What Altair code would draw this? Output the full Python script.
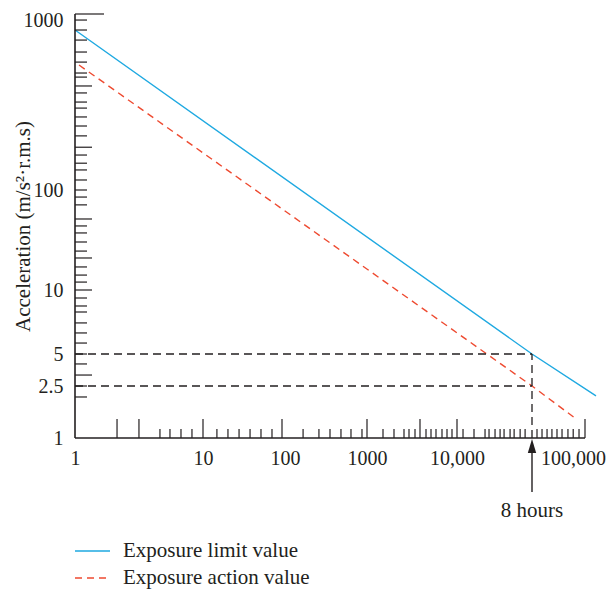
import altair as alt
import pandas as pd

# ---------------- data ----------------
series_names = ["Exposure limit value", "Exposure action value"]
time_limit = [1, 28800, 129500]
acc_limit = [811, 5, 2.1]
time_action = [1.075, 28800, 79100]
acc_action = [513, 2.5, 1.42]

eight_hours = 28800
guide_levels = [5, 2.5]

x_label_values = [1, 10, 100, 1000, 10000, 100000]
y_label_values = [1, 2.5, 5, 10, 100, 1000]

x_ticks_major = [2.13, 3.16, 10, 100, 1000, 3880, 10000, 100000]
x_ticks_minor = [4.61, 5.52, 6.73, 8.2, 15, 20.7, 28.6, 39.4, 54.2, 74.7,
                 177, 272, 367, 494, 648, 873,
                 1506, 1995, 2577, 2929, 3415, 4525, 5142, 5843, 6813, 7743, 8799,
                 10886, 12710, 14850, 15710, 17100, 18360, 19420, 21140, 22380,
                 24360, 26130, 32390, 36440, 41000, 46000, 51800, 58300, 67000,
                 75800, 86900]
y_ticks_top = [1000]
y_ticks_major = [390, 175, 51.3, 20.9, 10, 3.17]
y_ticks_minor = [924, 811, 711, 608, 533, 462, 438, 356, 316, 292, 260, 231, 203,
                 158, 142, 130, 114, 100, 85, 71, 43.7, 37.2, 30.2, 24.5, 17,
                 14.1, 12, 9.17, 8.41, 7.88, 7.0, 6.28, 5.63, 5, 4.03, 2.5, 2.06]

# piecewise log scales (the figure's decades are not evenly spaced)
x_domain = [1, 10, 100, 1000, 10000, 28800, 100000]
x_range = [0, 128, 207, 292, 382, 457, 510]
y_domain = [1, 2.5, 5, 10, 100, 1000]
y_range = [424, 372, 340, 276, 176, 0]

# ---------------- styles ----------------
ink = "#231f20"
blue = "#1fa9e1"
red = "#ee4a30"
font = "Liberation Serif"
W, H = 530, 424

x_scale = alt.Scale(type="log", domain=x_domain, range=x_range, nice=False)
y_scale = alt.Scale(type="log", domain=y_domain, range=y_range, nice=False)

x_axis = alt.Axis(values=x_label_values, ticks=False, domain=False, grid=False,
                  labelPadding=10, labelFontSize=20, labelFont=font, labelColor=ink,
                  labelFlush=False, labelOverlap=False, labelBound=False, title="",
                  labelOffset={"expr": "datum.value == 100000 ? -12 : (datum.value == 100 ? 3 : 0)"},
                  labelExpr="datum.value >= 10000 ? format(datum.value, ',') : '' + datum.value")
y_axis = alt.Axis(values=y_label_values, ticks=False, domain=False, grid=False,
                  labelPadding=12, labelFontSize=20, labelFont=font, labelColor=ink,
                  labelOverlap=False, labelBound=False, labelFlush=False,
                  labelOffset=alt.condition("datum.value == 1000", alt.value(6), alt.value(0)),
                  labelExpr="'' + datum.value",
                  title="Acceleration (m/s²·r.m.s)", titleFont=font, titleFontSize=21,
                  titleFontWeight="normal", titleColor=ink, titleAngle=270,
                  titleX=-52, titleY=212, titleAlign="center", titleBaseline="middle")


def X(field):
    return alt.X(field, scale=x_scale, axis=x_axis)


def Y(field):
    return alt.Y(field, scale=y_scale, axis=y_axis)


limit_df = pd.DataFrame({"t": time_limit, "a": acc_limit})
action_df = pd.DataFrame({"t": time_action, "a": acc_action})

limit_line = alt.Chart(limit_df).mark_line(color=blue, strokeWidth=1.4).encode(
    x=X("t:Q"), y=Y("a:Q"))
action_line = alt.Chart(action_df).mark_line(color=red, strokeWidth=1.4, strokeDash=[7, 5]).encode(
    x=X("t:Q"), y=Y("a:Q"))

# axis lines drawn from data
xaxis_df = pd.DataFrame({"t0": [x_label_values[0]], "t1": [x_label_values[-1]], "a": [y_label_values[0]]})
yaxis_df = pd.DataFrame({"t": [x_label_values[0]], "a0": [y_label_values[0]], "a1": [y_label_values[-1]]})
x_axis_line = alt.Chart(xaxis_df).mark_rule(color=ink, strokeWidth=1.6).encode(
    x=X("t0:Q"), x2="t1:Q", y=Y("a:Q"))
y_axis_line = alt.Chart(yaxis_df).mark_rule(color=ink, strokeWidth=1.6).encode(
    x=X("t:Q"), y=Y("a0:Q"), y2="a1:Q")


def xticks(vals, length):
    return alt.Chart(pd.DataFrame({"t": vals})).mark_rule(color=ink, strokeWidth=1.2).encode(
        x=X("t:Q"), y=alt.value(H), y2=alt.value(H - length))


def yticks(vals, length):
    return alt.Chart(pd.DataFrame({"a": vals})).mark_rule(color=ink, strokeWidth=1.2).encode(
        y=Y("a:Q"), x=alt.value(0), x2=alt.value(length))


# dashed guides at 8 hours
hguide_df = pd.DataFrame({"a": guide_levels, "t0": [1] * len(guide_levels),
                          "t1": [eight_hours] * len(guide_levels)})
vguide_df = pd.DataFrame({"t": [eight_hours], "a0": [1], "a1": [guide_levels[0]]})
hguides = alt.Chart(hguide_df).mark_rule(color=ink, strokeWidth=1.3, strokeDash=[8, 5]).encode(
    x=X("t0:Q"), x2="t1:Q", y=Y("a:Q"))
vguide = alt.Chart(vguide_df).mark_rule(color=ink, strokeWidth=1.3, strokeDash=[8, 5]).encode(
    x=X("t:Q"), y=Y("a0:Q"), y2="a1:Q")

# arrow + label below axis
arrow_df = pd.DataFrame({"t": [eight_hours], "label": ["8 hours"]})
arrow_shaft = alt.Chart(arrow_df).mark_rule(color=ink, strokeWidth=1.4).encode(
    x=X("t:Q"), y=alt.value(H + 15), y2=alt.value(H + 54))
arrow_head = alt.Chart(arrow_df).mark_point(shape="M0,-1L0.3,0L-0.3,0Z", size=784, filled=True,
                                             color=ink, opacity=1).encode(
    x=X("t:Q"), y=alt.value(H + 15))
arrow_text = alt.Chart(arrow_df).mark_text(font=font, fontSize=21, color=ink, baseline="alphabetic",
                                           align="center").encode(
    x=X("t:Q"), y=alt.value(H + 79), text="label:N")

# legend
leg_y = [H + 113, H + 140]
legend_layers = []
for name, col, dash, yy in [(series_names[0], blue, [1, 0], leg_y[0]),
                            (series_names[1], red, [7, 5], leg_y[1])]:
    ldf = pd.DataFrame({"label": [name]})
    legend_layers.append(alt.Chart(ldf).mark_rule(color=col, strokeWidth=1.4, strokeDash=dash).encode(
        x=alt.value(0), x2=alt.value(35), y=alt.value(yy)))
    legend_layers.append(alt.Chart(ldf).mark_text(font=font, fontSize=21, color=ink, align="left",
                                                  baseline="middle").encode(
        x=alt.value(48), y=alt.value(yy), text="label:N"))

chart = alt.layer(
    limit_line, action_line,
    x_axis_line, y_axis_line,
    xticks(x_ticks_minor, 9), xticks(x_ticks_major, 19),
    yticks(y_ticks_minor, 12), yticks(y_ticks_major, 17), yticks(y_ticks_top, 29),
    hguides, vguide, arrow_shaft, arrow_head, arrow_text,
    *legend_layers,
).properties(
    width=W, height=H,
    autosize=alt.AutoSizeParams(type="none"),
    padding={"left": 67, "top": 6, "right": 3, "bottom": 155},
    background="white",
).configure_view(strokeWidth=0)

chart.save("out.html", embed_options={"renderer": "svg", "actions": False})
